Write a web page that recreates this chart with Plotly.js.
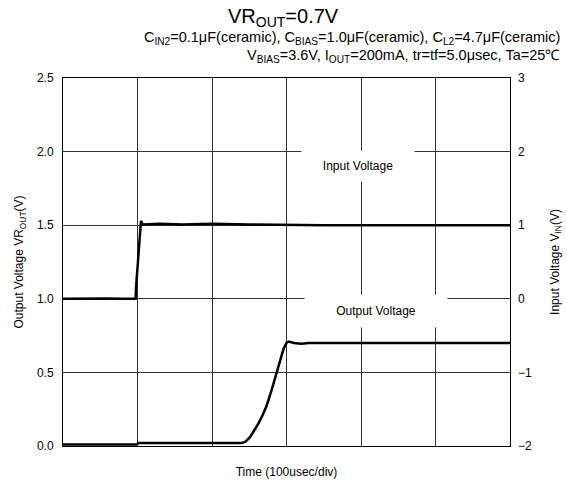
<!DOCTYPE html>
<html>
<head>
<meta charset="utf-8">
<script src="https://cdn.plot.ly/plotly-3.0.1.min.js"></script>
<style>html,body{margin:0;padding:0;background:#fff;}#chart{width:567px;height:485px;}</style>
</head>
<body>
<div id="chart"></div>
<script>
// Time in microseconds (100 usec per division)
const inputTime = [0, 20, 40, 60, 80, 97.5, 98.0, 100.3, 102.4, 104.7, 107, 130, 160, 200, 250, 300, 350, 400, 450, 500, 550, 600];
const inputVolt = [0, 0.005, 0, 0.005, 0, 0, 0.15, 0.49, 0.85, 1.06, 1.01, 1.02, 1.01, 1.02, 1.01, 1.0, 1.0, 1.0, 1.0, 1.0, 1.0, 1.0];

const outputTime = [0, 50, 99, 101, 150, 200, 240, 245, 251, 256, 262, 268, 273, 280, 287, 292, 296, 300, 303, 310, 320, 330, 350, 400, 450, 500, 550, 600];
const outputVolt = [0.01, 0.01, 0.01, 0.02, 0.02, 0.02, 0.02, 0.03, 0.06, 0.10, 0.15, 0.21, 0.27, 0.38, 0.50, 0.59, 0.66, 0.70, 0.71, 0.70, 0.695, 0.70, 0.70, 0.70, 0.70, 0.70, 0.70, 0.70];

const leftTicks = [0, 0.5, 1.0, 1.5, 2.0, 2.5];
const rightTicks = [-2, -1, 0, 1, 2, 3];

const FONT = 'Liberation Sans, Arial, sans-serif';

const traces = [
  {x: inputTime, y: inputVolt, yaxis: 'y2', mode: 'lines', name: 'Input Voltage',
   line: {color: '#000', width: 2.5}, showlegend: false},
  {x: outputTime, y: outputVolt, yaxis: 'y', mode: 'lines', name: 'Output Voltage',
   line: {color: '#000', width: 2.5}, showlegend: false}
];

const layout = {
  width: 567, height: 485,
  margin: {l: 63, r: 57, t: 78, b: 39},
  paper_bgcolor: '#fff', plot_bgcolor: '#fff',
  font: {family: FONT, size: 12, color: '#000'},
  showlegend: false,
  xaxis: {
    range: [0, 600], dtick: 100, tick0: 0,
    showticklabels: false, ticks: '', ticklen: 0,
    showgrid: true, gridcolor: '#333', gridwidth: 1,
    showline: true, linecolor: '#000', linewidth: 1, mirror: true,
    zeroline: false,
    title: {text: 'Time (100usec/div)', font: {family: FONT, size: 12}, standoff: 21}
  },
  yaxis: {
    range: [0, 2.5], tickvals: leftTicks, tickformat: '.1f',
    ticks: '', ticklen: 0, ticklabelstandoff: 6,
    showgrid: true, gridcolor: '#333', gridwidth: 1,
    showline: true, linecolor: '#000', linewidth: 1, mirror: true,
    zeroline: false, tickfont: {family: FONT, size: 12},
    title: {text: 'Output Voltage VR<sub>OUT</sub>(V)', font: {family: FONT, size: 12}, standoff: 10}
  },
  yaxis2: {
    range: [-2, 3], tickvals: rightTicks, overlaying: 'y', side: 'right',
    ticks: '', ticklen: 0, ticklabelstandoff: 7,
    showgrid: false, zeroline: false, showline: false,
    tickfont: {family: FONT, size: 12},
    title: {text: 'Input Voltage V<sub>IN</sub>(V)', font: {family: FONT, size: 12}, standoff: 19}
  },
  annotations: [
    {text: 'VR<sub>OUT</sub>=0.7V', xref: 'paper', yref: 'paper', x: 0.494, y: 1.165,
     xanchor: 'center', yanchor: 'middle', showarrow: false, font: {family: FONT, size: 20}},
    {text: 'C<sub>IN2</sub>=0.1μF(ceramic), C<sub>BIAS</sub>=1.0μF(ceramic), C<sub>L2</sub>=4.7μF(ceramic)',
     xref: 'paper', yref: 'paper', x: 1.116, y: 1.109, xanchor: 'right', yanchor: 'middle',
     showarrow: false, font: {family: FONT, size: 14.5}},
    {text: 'V<sub>BIAS</sub>=3.6V, I<sub>OUT</sub>=200mA, tr=tf=5.0μsec, Ta=25℃',
     xref: 'paper', yref: 'paper', x: 1.116, y: 1.059, xanchor: 'right', yanchor: 'middle',
     showarrow: false, font: {family: FONT, size: 14.5}},
    {text: 'Input Voltage', x: 396, y: 1.90, xref: 'x', yref: 'y', showarrow: false,
     font: {family: FONT, size: 12}, bgcolor: '#fff', width: 110, height: 28},
    {text: 'Output Voltage', x: 420, y: 0.915, xref: 'x', yref: 'y', showarrow: false,
     font: {family: FONT, size: 12}, bgcolor: '#fff', width: 140, height: 30}
  ]
};

Plotly.newPlot('chart', traces, layout, {displayModeBar: false, staticPlot: true});
</script>
</body>
</html>
